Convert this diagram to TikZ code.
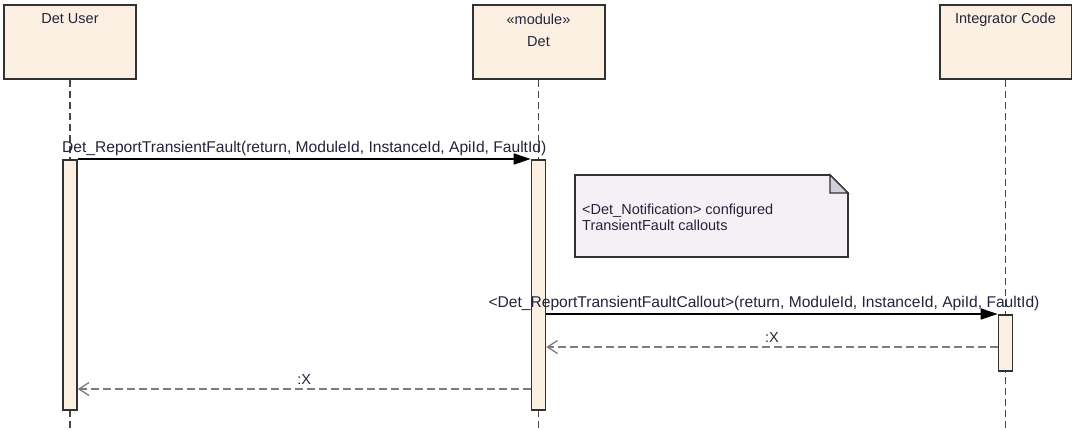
\documentclass[tikz,border=0pt]{standalone}
\usepackage{fontspec}
\setmainfont{Liberation Sans}
\usetikzlibrary{arrows.meta}
\definecolor{boxfill}{RGB}{251,240,225}
\definecolor{notefill}{RGB}{245,240,245}
\definecolor{foldfill}{RGB}{210,208,216}
\definecolor{txt}{RGB}{35,35,60}
\definecolor{retgray}{RGB}{125,125,125}
\definecolor{edge}{RGB}{50,50,50}
\begin{document}
\begin{tikzpicture}[x=1pt, y=-1pt, font=\fontsize{14.5}{16}\selectfont, >={Triangle[length=17pt,width=11pt]}]
	\tikzset{lifebox/.style={draw=edge, line width=2pt, fill=boxfill, minimum width=132pt, minimum height=74pt, inner sep=0pt},
		actbar/.style={draw=edge, line width=1.6pt, fill=boxfill, minimum width=14pt, inner sep=0pt},
		lifeline/.style={draw=edge!90, line width=1.8pt, dash pattern=on 7pt off 4pt},
		call/.style={draw=black, line width=1.5pt, ->},
		reply/.style={draw=retgray, line width=2.3pt, dash pattern=on 8pt off 4pt, -{Straight Barb[length=10pt,width=13pt,line width=1.3pt]}},
		msg/.style={text=txt, inner sep=1pt},
		msgwide/.style={msg, font=\fontsize{15.6}{17}\selectfont}}
	\useasboundingbox (0,0) rectangle (1072,429);
	% message levels
	\coordinate (m1) at (0,159);
	\coordinate (m2) at (0,314);
	\coordinate (r1) at (0,347);
	\coordinate (r2) at (0,389);
	\coordinate (bot) at (0,429);
	% lifeline heads
	\node[lifebox] (user) at (70,42) {};
	\node[lifebox] (det) at (538.5,42) {};
	\node[lifebox] (integ) at (1005.5,42) {};
	\node[msg, below=8pt] at (user.north) {Det User};
	\node[msg, below=9pt, align=center] at (det.north) {«module»\\[6pt]Det};
	\node[msg, below=8pt] at (integ.north) {Integrator Code};
	\draw[lifeline] (user.south) -- (user.south |- bot);
	\draw[lifeline] (det.south) -- (det.south |- bot);
	\draw[lifeline] (integ.south) -- (integ.south |- bot);
	% activations
	\node[actbar, minimum height=250pt, anchor=north] (userbar) at (user.south |- m1) {};
	\node[actbar, minimum height=250pt, anchor=north] (detbar) at (det.south |- m1) {};
	\node[actbar, minimum height=56pt, anchor=north] (integbar) at (integ.south |- m2) {};
	% note
	\draw[draw=edge, line width=1.6pt, fill=notefill] (575,175) -- (830,175) -- (848,193) -- (848,257) -- (575,257) -- cycle;
	\draw[draw=edge, line width=1.4pt, fill=foldfill] (830,175) -- (830,193) -- (848,193) -- cycle;
	\node[msg, anchor=west, align=left] (notetext) at (581,217) {<Det\_Notification> configured\\TransientFault callouts};
	% messages
	\draw[call] (userbar.north east) -- node[msgwide, above=2pt]{Det\_ReportTransientFault(return, ModuleId, InstanceId, ApiId, FaultId)} (detbar.north west);
	\draw[call] (detbar.east |- m2) -- node[msgwide, above=2pt, xshift=-8pt]{<Det\_ReportTransientFaultCallout>(return, ModuleId, InstanceId, ApiId, FaultId)} (integbar.north west);
	\draw[reply] (integbar.west |- r1) -- node[msg, above=2pt]{:X} (detbar.east |- r1);
	\draw[reply] (detbar.west |- r2) -- node[msg, above=2pt]{:X} (userbar.east |- r2);
\end{tikzpicture}
\end{document}
